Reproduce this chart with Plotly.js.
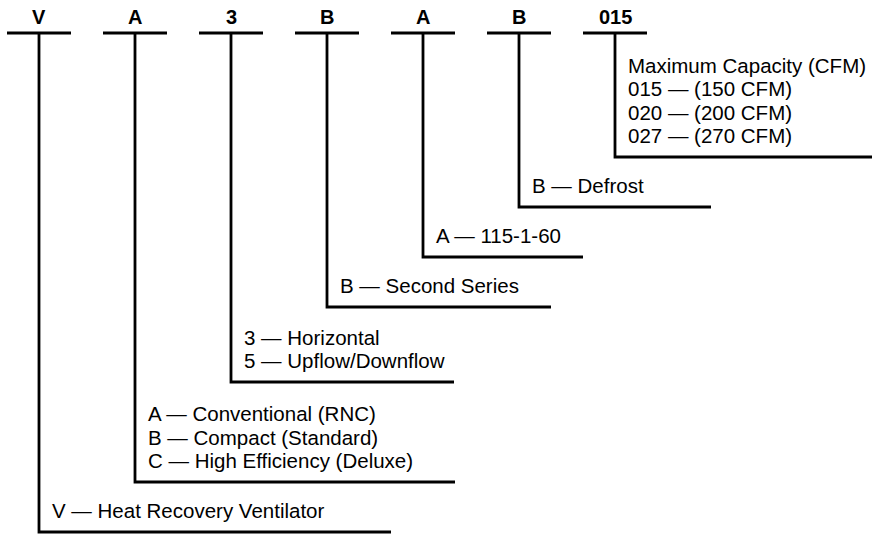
<!DOCTYPE html>
<html>
<head>
<meta charset="utf-8">
<script src="https://cdn.plot.ly/plotly-3.0.1.min.js"></script>
<style>html,body{margin:0;padding:0;background:#fff;}#chart{width:872px;height:534px;}</style>
</head>
<body>
<div id="chart"></div>
<script>
// ---- data ----
var codes = ['V', 'A', '3', 'B', 'A', 'B', '015'];
var descV = ['V \u2014 Heat Recovery Ventilator'];
var descA = ['A \u2014 Conventional (RNC)', 'B \u2014 Compact (Standard)', 'C \u2014 High Efficiency (Deluxe)'];
var desc3 = ['3 \u2014 Horizontal', '5 \u2014 Upflow/Downflow'];
var descB = ['B \u2014 Second Series'];
var descVolt = ['A \u2014 115-1-60'];
var descDefrost = ['B \u2014 Defrost'];
var descCap = ['Maximum Capacity (CFM)', '015 \u2014 (150 CFM)', '020 \u2014 (200 CFM)', '027 \u2014 (270 CFM)'];
var descriptions = [descV, descA, desc3, descB, descVolt, descDefrost, descCap];

// ---- layout constants (pixel space) ----
var colX0 = 39, colStep = 96, barHalf = 32, topBarY = 33, labelY = 17;
var linePitch = 23.5, gapBase = 25, gapPerLine = 25, textAboveBottom = 21.5, textIndent = 11;
var bracketRight = [391, 455, 454, 551, 583, 711, 880];

var traces = [];
var annotations = [];
var n = codes.length;
var bottoms = new Array(n);
var y = topBarY - 1;
for (var i = n - 1; i >= 0; i--) {
  y += gapBase + gapPerLine * descriptions[i].length;
  bottoms[i] = y;
}
var lineStyle = {color: '#000', width: 2.8};
for (var i = 0; i < n; i++) {
  var cx = colX0 + colStep * i;
  traces.push({x: [cx - barHalf, cx + barHalf], y: [topBarY, topBarY], mode: 'lines', line: lineStyle, hoverinfo: 'skip'});
  traces.push({x: [cx, cx, bracketRight[i]], y: [topBarY, bottoms[i], bottoms[i]], mode: 'lines', line: lineStyle, hoverinfo: 'skip'});
  annotations.push({x: cx, y: labelY, xref: 'x', yref: 'y', text: '<b>' + codes[i] + '</b>', showarrow: false,
    xanchor: 'center', yanchor: 'middle', font: {family: 'Liberation Sans, Arial, sans-serif', size: 20, color: '#000'}});
  var lines = descriptions[i];
  for (var k = 0; k < lines.length; k++) {
    var ty = bottoms[i] - textAboveBottom - linePitch * (lines.length - 1 - k);
    annotations.push({x: cx + textIndent, y: ty, xref: 'x', yref: 'y', text: lines[k], showarrow: false,
      xanchor: 'left', yanchor: 'middle', font: {family: 'Liberation Sans, Arial, sans-serif', size: 20.5, color: '#000'}});
  }
}

var layout = {
  width: 872, height: 534,
  margin: {l: 0, r: 0, t: 0, b: 0},
  paper_bgcolor: '#fff', plot_bgcolor: '#fff',
  showlegend: false,
  xaxis: {range: [0, 872], visible: false, fixedrange: true},
  yaxis: {range: [534, 0], visible: false, fixedrange: true},
  annotations: annotations
};
Plotly.newPlot('chart', traces, layout, {displayModeBar: false, staticPlot: true});
</script>
</body>
</html>
